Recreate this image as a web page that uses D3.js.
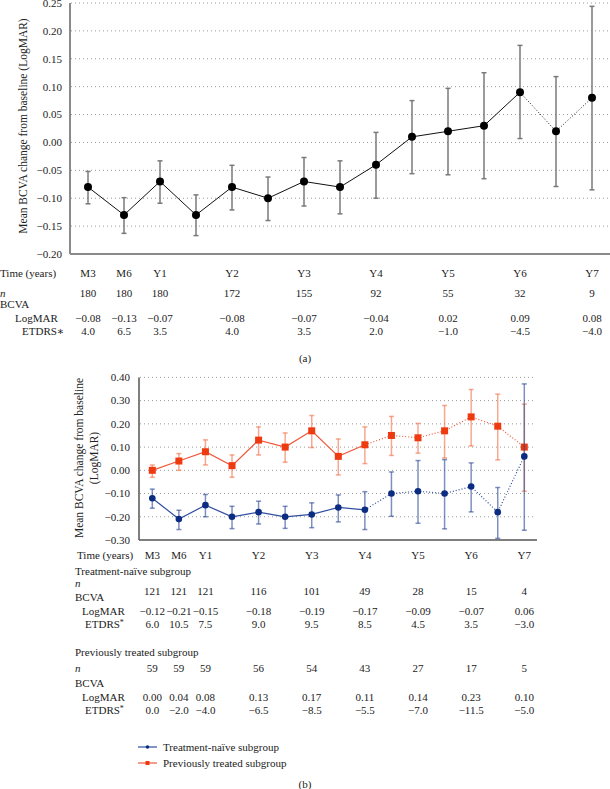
<!DOCTYPE html>
<html><head><meta charset="utf-8">
<script src="https://cdn.jsdelivr.net/npm/d3@7"></script>
<style>
html,body{margin:0;padding:0;background:#fff;}
svg{display:block;}
svg text{font-family:"Liberation Serif","Times New Roman",Times,"DejaVu Serif",serif;}
</style></head>
<body>
<svg id="chart" width="610" height="789"></svg>
<script>
// ---------- data ----------
const timepoints = ["M3","M6","M12","M18","M24","M30","M36","M42","M48","M54","M60","M66","M72","M78","M84"];
const tableCols  = ["M3","M6","M12","M24","M36","M48","M60","M72","M84"];
const tableLabels = ["M3","M6","Y1","Y2","Y3","Y4","Y5","Y6","Y7"];

// panel (a): all patients
const aMean = [-0.08,-0.13,-0.07,-0.13,-0.08,-0.10,-0.07,-0.08,-0.04,0.01,0.02,0.03,0.09,0.02,0.08];
const aLow  = [-0.110,-0.163,-0.109,-0.167,-0.121,-0.140,-0.114,-0.128,-0.100,-0.056,-0.058,-0.065,0.007,-0.079,-0.085];
const aHigh = [-0.052,-0.099,-0.033,-0.094,-0.041,-0.062,-0.027,-0.033,0.018,0.075,0.097,0.125,0.174,0.118,0.244];
const aN      = [180,180,180,172,155,92,55,32,9];
const aLogMAR = [-0.08,-0.13,-0.07,-0.08,-0.07,-0.04,0.02,0.09,0.08];
const aETDRS  = [4.0,6.5,3.5,4.0,3.5,2.0,-1.0,-4.5,-4.0];
const aTicks = [0.25,0.20,0.15,0.10,0.05,0.00,-0.05,-0.10,-0.15,-0.20];

// panel (b): subgroups
const naiveMean = [-0.12,-0.21,-0.15,-0.20,-0.18,-0.20,-0.19,-0.16,-0.17,-0.10,-0.09,-0.10,-0.07,-0.18,0.06];
const naiveLow  = [-0.163,-0.255,-0.200,-0.251,-0.231,-0.250,-0.247,-0.222,-0.255,-0.198,-0.228,-0.252,-0.179,-0.293,-0.258];
const naiveHigh = [-0.081,-0.172,-0.104,-0.155,-0.133,-0.155,-0.140,-0.106,-0.092,-0.007,0.042,0.046,0.032,-0.074,0.372];
const prevMean = [0.00,0.04,0.08,0.02,0.13,0.10,0.17,0.06,0.11,0.15,0.14,0.17,0.23,0.19,0.10];
const prevLow  = [-0.030,0.000,0.023,-0.030,0.066,0.035,0.098,-0.020,0.029,0.064,0.074,0.053,0.105,0.045,-0.090];
const prevHigh = [0.023,0.072,0.131,0.066,0.187,0.161,0.236,0.135,0.187,0.232,0.202,0.279,0.348,0.328,0.285];
const naiveN      = [121,121,121,116,101,49,28,15,4];
const naiveLogMAR = [-0.12,-0.21,-0.15,-0.18,-0.19,-0.17,-0.09,-0.07,0.06];
const naiveETDRS  = [6.0,10.5,7.5,9.0,9.5,8.5,4.5,3.5,-3.0];
const prevN      = [59,59,59,56,54,43,27,17,5];
const prevLogMAR = [0.00,0.04,0.08,0.13,0.17,0.11,0.14,0.23,0.10];
const prevETDRS  = [0.0,-2.0,-4.0,-6.5,-8.5,-5.5,-7.0,-11.5,-5.0];
const bTicks = [0.40,0.30,0.20,0.10,0.00,-0.10,-0.20,-0.30];
const seriesNames = ["Treatment-naïve subgroup","Previously treated subgroup"];

// ---------- drawing ----------
const FONT = "'Liberation Serif','Times New Roman',Times,'DejaVu Serif',serif";
const svg = d3.select("#chart").attr("font-family",FONT);
const f2 = d3.format(".2f"), f1 = d3.format(".1f");
const FS = 11;

function panel(opts){
  const g = svg.append("g");
  const x = d3.scalePoint().domain(timepoints).range(opts.xr);
  const y = d3.scaleLinear().domain(opts.yd).range(opts.yr);
  g.selectAll(".grid").data(opts.ticks.filter(t=>t!==opts.yd[0])).join("line")
    .attr("x1",opts.axX+1).attr("x2",opts.gridEnd)
    .attr("y1",d=>y(d)).attr("y2",d=>y(d))
    .attr("stroke","#9a9a9a").attr("stroke-width",1).attr("stroke-dasharray","1,3");
  g.selectAll(".tl").data(opts.ticks).join("text")
    .attr("font-family",FONT)
    .attr("x",opts.tickX).attr("y",d=>y(d)).attr("dy","0.35em")
    .attr("text-anchor","end").attr("font-size",FS).attr("fill","#222")
    .text(d=>f2(d));
  g.append("line").attr("x1",opts.axX).attr("x2",opts.axX)
    .attr("y1",y(opts.yd[1])).attr("y2",y(opts.yd[0]))
    .attr("stroke",opts.axColor).attr("stroke-width",opts.axW);
  g.append("line").attr("x1",opts.axX).attr("x2",opts.axEnd)
    .attr("y1",y(opts.yd[0])).attr("y2",y(opts.yd[0]))
    .attr("stroke",opts.axColor).attr("stroke-width",opts.axW);
  return {g,x,y};
}

function series(P, mean, low, high, solidUntil, st){
  const {g,x,y} = P;
  const pts = timepoints.map((t,i)=>({t,i,m:mean[i],lo:low[i],hi:high[i]}));
  const eb = g.append("g").attr("stroke",st.ebColor).attr("stroke-width",st.ebW);
  pts.forEach(p=>{
    eb.append("line").attr("x1",x(p.t)).attr("x2",x(p.t)).attr("y1",y(p.lo)).attr("y2",y(p.hi));
    eb.append("line").attr("x1",x(p.t)-st.cap).attr("x2",x(p.t)+st.cap).attr("y1",y(p.lo)).attr("y2",y(p.lo));
    eb.append("line").attr("x1",x(p.t)-st.cap).attr("x2",x(p.t)+st.cap).attr("y1",y(p.hi)).attr("y2",y(p.hi));
  });
  const line = d3.line().x(p=>x(p.t)).y(p=>y(p.m));
  g.append("path").datum(pts.slice(0,solidUntil+1)).attr("d",line)
    .attr("fill","none").attr("stroke",st.lineColor).attr("stroke-width",st.lineW);
  g.append("path").datum(pts.slice(solidUntil)).attr("d",line)
    .attr("fill","none").attr("stroke",st.lineColor).attr("stroke-width",st.lineW)
    .attr("stroke-dasharray","1,2");
  if(st.shape==="circle"){
    g.selectAll(null).data(pts).join("circle").attr("cx",p=>x(p.t)).attr("cy",p=>y(p.m))
      .attr("r",st.r).attr("fill",st.markColor);
  } else {
    g.selectAll(null).data(pts).join("rect").attr("x",p=>x(p.t)-st.r).attr("y",p=>y(p.m)-st.r)
      .attr("width",2*st.r).attr("height",2*st.r).attr("fill",st.markColor);
  }
}

function txt(x,y,s,anchor,extra){
  const t = svg.append("text").attr("font-family",FONT).attr("x",x).attr("y",y).attr("dy","0.35em")
    .attr("font-size",FS).attr("fill","#222").attr("text-anchor",anchor||"start").text(s);
  if(extra) extra(t);
  return t;
}
function row(xs, y, vals, fmt){
  tableCols.forEach((c,i)=>txt(xs(c), y, fmt(vals[i]), "middle"));
}
function vlabel(x,y,s){
  svg.append("text").attr("font-family",FONT).attr("transform",`translate(${x},${y}) rotate(-90)`)
    .attr("text-anchor","middle").attr("dy","0.35em").attr("font-size",11.5).attr("fill","#222").text(s);
}

// ----- Panel (a) -----
const A = panel({xr:[88,592], yd:[-0.20,0.25], yr:[254,3], ticks:aTicks,
  axX:70, tickX:62, gridEnd:610, axEnd:610, axColor:"#8a8a8a", axW:2});
series(A, aMean, aLow, aHigh, 12,
  {ebColor:"#7a7a7a", ebW:1.5, cap:2.5, lineColor:"#111", lineW:1, markColor:"#000", r:4, shape:"circle"});
vlabel(23,126,"Mean BCVA change from baseline (LogMAR)");

// table (a)
txt(0,273.5,"Time (years)");
tableCols.forEach((c,i)=>txt(A.x(c),273.5,tableLabels[i],"middle"));
txt(0,293,"n","start",t=>t.attr("font-style","italic"));
row(A.x,293,aN,d=>d);
txt(0,304,"BCVA");
txt(15,318,"LogMAR");
row(A.x,318,aLogMAR,f2);
txt(22,331,"ETDRS∗");
row(A.x,331,aETDRS,f1);
txt(305,358,"(a)","middle");

// ----- Panel (b) -----
const B = panel({xr:[152.3,524.3], yd:[-0.30,0.40], yr:[540,377.4], ticks:bTicks,
  axX:139, tickX:130, gridEnd:535, axEnd:537, axColor:"#555", axW:1.5});
const blue = {ebColor:"rgba(40,70,150,0.6)", ebW:1.5, cap:2.5, lineColor:"#2f4ea0", lineW:1.2, markColor:"#0b2c80", r:3.3, shape:"circle"};
const red  = {ebColor:"rgba(240,110,70,0.6)", ebW:1.5, cap:2.5, lineColor:"#f0583a", lineW:1.2, markColor:"#ee3a10", r:3.5, shape:"rect"};
series(B, prevMean, prevLow, prevHigh, 8, red);
series(B, naiveMean, naiveLow, naiveHigh, 8, blue);
vlabel(79,458,"Mean BCVA change from baseline");
vlabel(94,458,"(LogMAR)");

// table (b)
txt(77,555.5,"Time (years)");
tableCols.forEach((c,i)=>txt(B.x(c),555.5,tableLabels[i],"middle"));
txt(75,571,seriesNames[0]);
txt(75,583,"n","start",t=>t.attr("font-style","italic"));
row(B.x,591,naiveN,d=>d);
txt(75,597,"BCVA");
txt(82,611,"LogMAR");
row(B.x,611,naiveLogMAR,f2);
txt(85,624.5,"ETDRS","start",t=>t.append("tspan").attr("font-size",8).attr("dy","-0.4em").text("*"));
row(B.x,624.5,naiveETDRS,f1);
txt(75,652,seriesNames[1]);
txt(75,668.5,"n","start",t=>t.attr("font-style","italic"));
row(B.x,668.5,prevN,d=>d);
txt(75,683,"BCVA");
txt(82,697,"LogMAR");
row(B.x,697,prevLogMAR,f2);
txt(85,710.5,"ETDRS","start",t=>t.append("tspan").attr("font-size",8).attr("dy","-0.4em").text("*"));
row(B.x,710.5,prevETDRS,f1);

// legend
const leg = svg.append("g");
[[blue,747],[red,763]].forEach(([st,yy],i)=>{
  leg.append("line").attr("x1",138).attr("x2",157).attr("y1",yy).attr("y2",yy)
    .attr("stroke",st.lineColor).attr("stroke-width",1.2);
  if(st.shape==="circle") leg.append("circle").attr("cx",147.5).attr("cy",yy).attr("r",1.8).attr("fill",st.markColor);
  else leg.append("rect").attr("x",145.5).attr("y",yy-2).attr("width",4).attr("height",4).attr("fill",st.markColor);
  txt(163,yy,seriesNames[i]);
});
txt(305,784,"(b)","middle");
</script>
</body></html>
